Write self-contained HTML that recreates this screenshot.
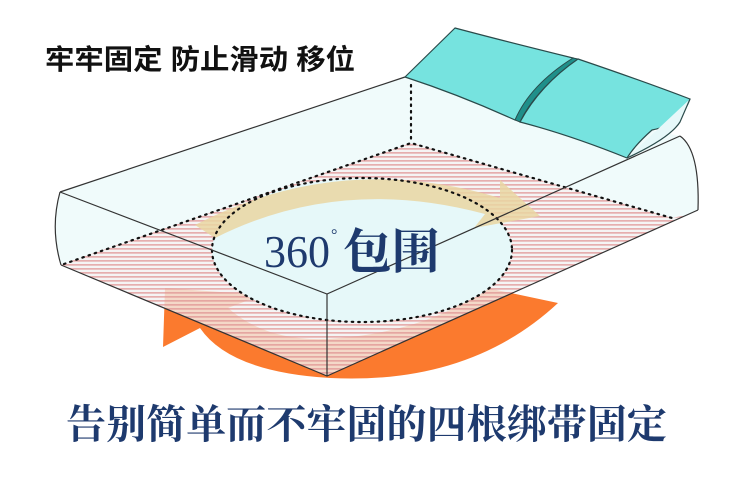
<!DOCTYPE html>
<html><head><meta charset="utf-8"><style>
html,body{margin:0;padding:0;background:#fff;}
body{width:750px;height:488px;overflow:hidden;position:relative;}
svg{position:absolute;left:0;top:0;}
</style></head><body>
<svg width="750" height="488" viewBox="0 0 750 488" xmlns="http://www.w3.org/2000/svg">
<defs>
<pattern id="st" width="6" height="4" patternUnits="userSpaceOnUse">
<rect width="6" height="4" fill="#fbecec" fill-opacity="0.55"/>
<rect width="6" height="1.7" fill="#e4a0a0"/>
</pattern>
<clipPath id="mat"><path d="M60,192 L405,77 L690,140 L698,210 L327,376 L61,265 Z"/></clipPath>
</defs>
<path d="M165,288 L262,295 L228,308 Q270,345 340,338 Q430,330 487,288 L558,303 Q470,385 330,378 Q230,372 200,328 L163,347 Z" fill="#fb7a2e"/>
<path d="M60,192 L405,77 L680,136 Q700,150 698,210 L327,376 L61,265 Q50,228 60,192 Z" fill="#e6f8f9" fill-opacity="0.6"/>
<g clip-path="url(#mat)">
<path d="M68,262 L411,143 L672,218 L700,212 L327,376 L61,265 Z" fill="url(#st)" fill-opacity="0.85"/>
<ellipse cx="362" cy="250" rx="150" ry="72" fill="#e6f8f9"/>
</g>
<path d="M195,225 Q340,150 500,198 L500,180 L540,216 L474,228 L485,214 Q340,175 215,238 Z" fill="#e9d6a2" fill-opacity="0.85"/>
<g fill="none" stroke="#111" stroke-width="2.2" stroke-dasharray="1.5 5" stroke-linecap="round">
<path d="M411,85 L411,143"/>
<path d="M64,264 L411,143 L672,218"/>
<ellipse cx="362" cy="250" rx="150" ry="72"/>
</g>
<g fill="none" stroke="#333" stroke-width="1.2">
<path d="M60,192 L405,77"/>
<path d="M60,192 L327,294 L680,136"/>
<path d="M327,294 L327,376"/>
<path d="M61,265 L327,376 L698,210"/>
<path d="M60,192 Q50,228 61,265"/>
<path d="M680,136 Q700,150 698,210"/>
</g>
<path d="M405,77 L455,28 Q500,40 573,58 L515,120 Q460,95 405,77 Z" fill="#76e3df" stroke="#2a4a4a" stroke-width="1.2"/>
<path d="M573,58 L578,59 Q535,90 520,122 L515,120 Q530,85 573,58 Z" fill="#1f8f8a" stroke="#2a4a4a" stroke-width="1"/>
<path d="M578,59 Q640,80 690,99 Q680,125 652,130 Q635,145 627,158 Q570,135 520,122 Q540,85 578,59 Z" fill="#76e3df" stroke="#2a4a4a" stroke-width="1.2"/>
<path d="M690,99 L680,122 Q670,138 627,158" fill="#e6f8f9" stroke="#2a4a4a" stroke-width="1.2"/>
<text x="45" y="69" font-family="'Liberation Sans','Noto Sans CJK SC',sans-serif" font-weight="bold" font-size="28" fill="#111" textLength="310" lengthAdjust="spacingAndGlyphs">牢牢固定 防止滑动 移位</text>
<text x="264" y="267" font-family="'Liberation Serif','Noto Serif CJK SC',serif" font-size="46" fill="#1e3a6e" textLength="66" lengthAdjust="spacingAndGlyphs">360</text>
<text x="331" y="240" font-family="'Liberation Serif',serif" font-size="16" fill="#1e3a6e">°</text>
<text x="343" y="268" font-family="'Liberation Serif','Noto Serif CJK SC',serif" font-weight="bold" font-size="48" fill="#1e3a6e" textLength="97" lengthAdjust="spacingAndGlyphs">包围</text>
<text x="66" y="438" font-family="'Liberation Serif','Noto Serif CJK SC',serif" font-weight="bold" font-size="40" fill="#1e3a6e" textLength="601" lengthAdjust="spacingAndGlyphs">告别简单而不牢固的四根绑带固定</text>
</svg>
</body></html>
